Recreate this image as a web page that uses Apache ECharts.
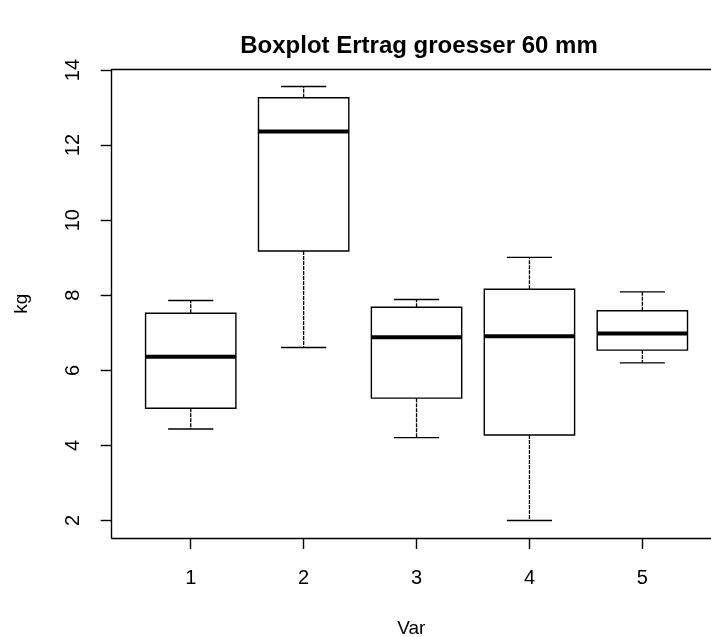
<!DOCTYPE html>
<html>
<head>
<meta charset="utf-8">
<title>Boxplot Ertrag groesser 60 mm</title>
<script src="https://cdn.jsdelivr.net/npm/echarts@6/dist/echarts.min.js"></script>
<style>
  html, body { margin: 0; padding: 0; background: #fff; }
  #chart { width: 711px; height: 637px; }
</style>
</head>
<body>
<div id="chart"></div>
<script>
  // Werte
  var categories = ['1', '2', '3', '4', '5'];
  var mins    = [4.44, 6.61, 4.21, 2.00, 6.20];
  var q1s     = [4.99, 9.18, 5.26, 4.28, 6.54];
  var medians = [6.36, 12.36, 6.88, 6.91, 6.98];
  var q3s     = [7.52, 13.26, 7.68, 8.16, 7.59];
  var maxs    = [7.86, 13.56, 7.89, 9.01, 8.09];
  var xTicks  = [1, 2, 3, 4, 5];
  var yTicks  = [2, 4, 6, 8, 10, 12, 14];

  var boxData = categories.map(function (c, i) {
    return [i + 1, mins[i], q1s[i], medians[i], q3s[i], maxs[i]];
  });

  function renderBox(params, api) {
    var x = api.value(0);
    var boxW = api.size([0.8, 0])[0];
    var capW = api.size([0.4, 0])[0];
    var pMin = api.coord([x, api.value(1)]);
    var pQ1 = api.coord([x, api.value(2)]);
    var pMed = api.coord([x, api.value(3)]);
    var pQ3 = api.coord([x, api.value(4)]);
    var pMax = api.coord([x, api.value(5)]);
    var cx = pMed[0];
    var lineStyle = { stroke: '#000', lineWidth: 1.4 };
    var dashStyle = { stroke: '#000', lineWidth: 1.3, lineDash: [4, 1] };
    return {
      type: 'group',
      children: [
        { type: 'line', shape: { x1: cx, y1: pQ3[1], x2: cx, y2: pMax[1] }, style: dashStyle },
        { type: 'line', shape: { x1: cx, y1: pQ1[1], x2: cx, y2: pMin[1] }, style: dashStyle },
        { type: 'line', shape: { x1: cx - capW / 2, y1: pMax[1], x2: cx + capW / 2, y2: pMax[1] }, style: lineStyle },
        { type: 'line', shape: { x1: cx - capW / 2, y1: pMin[1], x2: cx + capW / 2, y2: pMin[1] }, style: lineStyle },
        { type: 'rect', shape: { x: cx - boxW / 2, y: pQ3[1], width: boxW, height: pQ1[1] - pQ3[1] },
          style: { fill: '#fff', stroke: '#000', lineWidth: 1.4 } },
        { type: 'line', shape: { x1: cx - boxW / 2, y1: pMed[1], x2: cx + boxW / 2, y2: pMed[1] },
          style: { stroke: '#000', lineWidth: 4 } }
      ]
    };
  }

  var labelFont = { fontFamily: 'Liberation Sans', fontSize: 19, color: '#000' };
  var black = { color: '#000', width: 1.4 };

  var chart = echarts.init(document.getElementById('chart'));
  chart.setOption({
    backgroundColor: '#fff',
    animation: false,
    title: {
      text: 'Boxplot Ertrag groesser 60 mm',
      left: 414,
      top: 29,
      textAlign: 'center',
      textStyle: { fontFamily: 'Liberation Sans', fontSize: 24, fontWeight: 'bold', color: '#000' }
    },
    grid: {
      left: 111.7,
      top: 69.4,
      width: 599.3,
      height: 468.5,
      outerBoundsMode: 'none'
    },
    xAxis: [{
      type: 'value',
      min: 0.3,
      max: 5.608,
      name: 'Var',
      nameLocation: 'middle',
      nameGap: 81,
      nameTextStyle: labelFont,
      axisLine: { show: true, onZero: false, lineStyle: black },
      axisTick: { show: true, length: 11, customValues: xTicks, lineStyle: black },
      axisLabel: {
        customValues: xTicks,
        formatter: function (v) { return categories[v - 1]; },
        margin: 31,
        fontFamily: 'Liberation Sans', fontSize: 20, color: '#000'
      },
      splitLine: { show: false }
    }, {
      // obere Rahmenlinie
      type: 'value',
      position: 'top',
      min: 0.3,
      max: 5.608,
      axisLine: { show: true, onZero: false, lineStyle: black },
      axisTick: { show: false },
      axisLabel: { show: false },
      splitLine: { show: false }
    }],
    yAxis: {
      type: 'value',
      min: 1.538,
      max: 14.017,
      name: 'kg',
      nameLocation: 'middle',
      nameGap: 80,
      nameRotate: 90,
      nameTextStyle: labelFont,
      axisLine: { show: true, onZero: false, lineStyle: black },
      axisTick: { show: true, length: 11, customValues: yTicks, lineStyle: black },
      axisLabel: {
        customValues: yTicks,
        rotate: 90,
        margin: 28,
        fontFamily: 'Liberation Sans', fontSize: 20, color: '#000'
      },
      splitLine: { show: false }
    },
    series: [{
      type: 'custom',
      renderItem: renderBox,
      data: boxData,
      encode: { x: 0, y: [1, 2, 3, 4, 5] },
      clip: false
    }]
  });
</script>
</body>
</html>
